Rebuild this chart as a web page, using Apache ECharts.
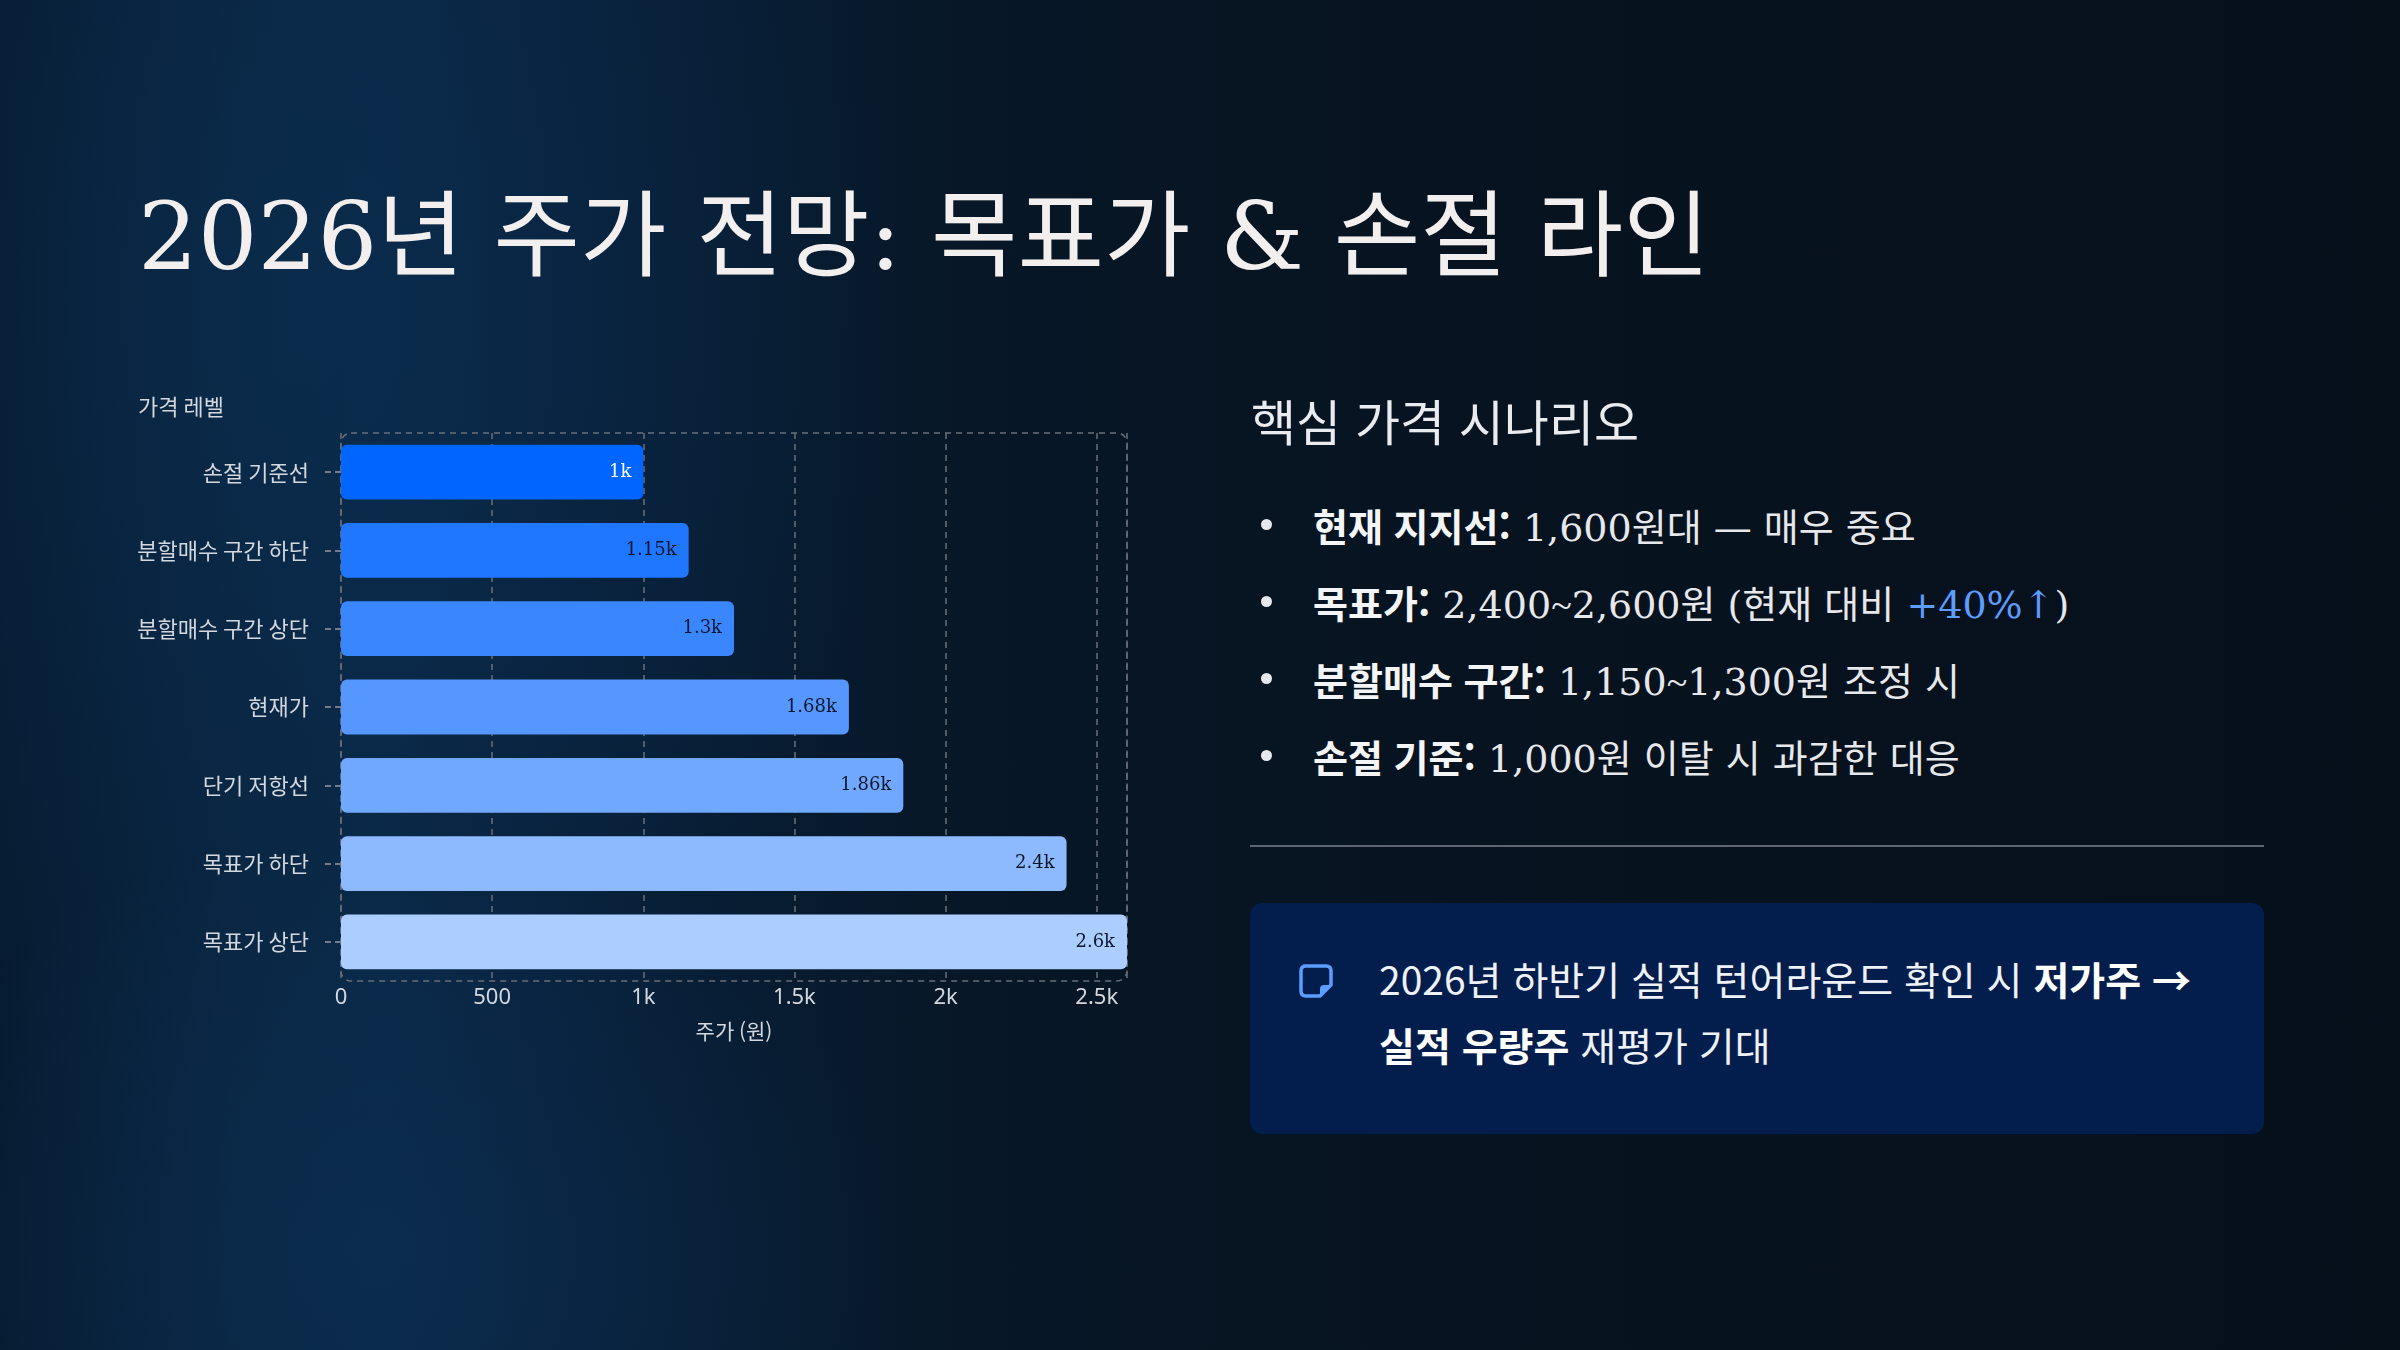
<!DOCTYPE html>
<html lang="ko">
<head>
<meta charset="utf-8">
<script src="https://cdn.jsdelivr.net/npm/echarts@6/dist/echarts.min.js"></script>
<style>
  html, body { margin: 0; padding: 0; }
  body {
    width: 2400px; height: 1350px; overflow: hidden; position: relative;
    font-family: "Noto Sans CJK KR", "Noto Sans", sans-serif;
    background:
      radial-gradient(ellipse 520px 420px at 380px 1250px, rgba(14,52,92,0.45), rgba(14,52,92,0) 100%),
      radial-gradient(ellipse 600px 900px at 300px 300px, rgba(12,48,84,0.55), rgba(12,48,84,0) 100%),
      linear-gradient(90deg, #061a2f 0%, #09243f 10%, #0a2644 16%, #08203a 24%, #071727 40%, #071320 60%, #06101b 100%);
  }
  #title {
    position: absolute; left: 138px; top: 172px; margin: 0;
    font-family: "DejaVu Serif", "Noto Sans CJK KR", serif;
    font-weight: 400; font-size: 94px; line-height: 130px; color: #f3efee;
    white-space: nowrap;
  }
  #chart { position: absolute; left: 0; top: 0; width: 1200px; height: 1350px; }
  #h2 {
    position: absolute; left: 1251px; top: 387px; margin: 0;
    font-weight: 400; font-size: 49px; line-height: 66px; color: #e9ebef; white-space: nowrap;
  }
  #bullets {
    position: absolute; left: 1250px; top: 486px; margin: 0; padding: 0; list-style: none;
    font-family: "DejaVu Serif", "Noto Sans CJK KR", serif;
    font-size: 38px; line-height: 77px; color: #e6e8ec; white-space: nowrap;
  }
  #bullets li { position: relative; padding-left: 63px; height: 77px; }
  #bullets li::before {
    content: ""; position: absolute; left: 11px; top: 33px; width: 11px; height: 11px;
    border-radius: 50%; background: #e6e8ec;
  }
  #bullets b { font-family: "Noto Sans CJK KR", sans-serif; font-weight: 700; color: #f4f5f7; }
  #bullets .up { color: #5c9dff; }
  #bullets .t { font-family: "Liberation Serif", serif; }
  #divider { position: absolute; left: 1250px; top: 845px; width: 1014px; height: 2px; background: #5d6573; }
  #callout {
    position: absolute; left: 1250px; top: 903px; width: 1014px; height: 231px;
    border-radius: 12px; background: #031d4c;
  }
  #callout svg { position: absolute; left: 48px; top: 60px; }
  #callout p {
    position: absolute; left: 129px; top: 42px; margin: 0; width: 880px;
    font-size: 39px; line-height: 66px; color: #eef1f6;
  }
  #callout b { font-weight: 700; color: #ffffff; }
</style>
</head>
<body>
<h1 id="title">2026년 주가 전망: 목표가 &amp; 손절 라인</h1>
<div id="chart"></div>
<h2 id="h2">핵심 가격 시나리오</h2>
<ul id="bullets">
  <li><b>현재 지지선:</b> 1,600원대 — 매우 중요</li>
  <li><b>목표가:</b> 2,400<span class="t">~</span>2,600원 (현재 대비 <span class="up">+40%↑</span>)</li>
  <li><b>분할매수 구간:</b> 1,150<span class="t">~</span>1,300원 조정 시</li>
  <li><b>손절 기준:</b> 1,000원 이탈 시 과감한 대응</li>
</ul>
<div id="divider"></div>
<div id="callout">
  <svg width="36" height="36" viewBox="0 0 36 36">
    <path d="M6 3 H28 Q33 3 33 8 V22 L22 33 H8 Q3 33 3 28 V8 Q3 3 8 3 Z" fill="none" stroke="#5c9dff" stroke-width="3.5" stroke-linejoin="round"/>
    <path d="M33 22 H26 Q22 22 22 26 V33 Z" fill="#5c9dff"/>
  </svg>
  <p>2026년 하반기 실적 턴어라운드 확인 시 <b>저가주 →<br>실적 우량주</b> 재평가 기대</p>
</div>
<script>
const categories = ['손절 기준선', '분할매수 구간 하단', '분할매수 구간 상단', '현재가', '단기 저항선', '목표가 하단', '목표가 상단'];
const prices = [1000, 1150, 1300, 1680, 1860, 2400, 2600];
const barColors = ['#0066ff', '#1f76ff', '#3a86ff', '#5596ff', '#71a8ff', '#8dbaff', '#abcdff'];
const labelColors = ['#ffffff', '#0b1628', '#0b1628', '#0b1628', '#0b1628', '#0b1628', '#0b1628'];
const xTickLabels = { 0: '0', 500: '500', 1000: '1k', 1500: '1.5k', 2000: '2k', 2500: '2.5k' };

const G = { left: 341, top: 433, width: 786, height: 548 };
const dashColor = '#6a6f79';

const chart = echarts.init(document.getElementById('chart'), null, { renderer: 'canvas' });
chart.setOption({
  backgroundColor: 'transparent',
  animation: false,
  title: {
    text: '가격 레벨', left: 138, top: 396, padding: 0,
    textStyle: { color: '#d3d7de', fontSize: 22, fontWeight: 400, fontFamily: 'Noto Sans CJK KR' }
  },
  grid: { left: G.left, top: G.top, width: G.width, height: G.height, containLabel: false },
  xAxis: {
    type: 'value', min: 0, max: 2600, interval: 500,
    name: '주가 (원)', nameLocation: 'middle', nameGap: 40,
    nameTextStyle: { color: '#d3d7de', fontSize: 21, fontFamily: 'Noto Sans CJK KR' },
    axisLine: { show: false }, axisTick: { show: false },
    axisLabel: {
      color: '#d3d7de', fontSize: 22, margin: 6, fontFamily: 'Noto Sans',
      showMaxLabel: false,
      formatter: v => (xTickLabels[v] !== undefined ? xTickLabels[v] : '')
    },
    splitLine: { show: true, lineStyle: { color: dashColor, width: 1.5, type: [6, 5] } }
  },
  yAxis: {
    type: 'category', data: categories, inverse: true, offset: 13,
    axisLine: { show: false },
    axisTick: { show: true, alignWithLabel: true, length: 16, lineStyle: { color: '#767b85', width: 2, type: [6, 4] } },
    axisLabel: { color: '#d3d7de', fontSize: 22, margin: 19, fontFamily: 'Noto Sans CJK KR' },
    splitLine: { show: false }
  },
  series: [{
    type: 'bar', barCategoryGap: '30%',
    data: prices.map((v, i) => ({
      value: v,
      itemStyle: { color: barColors[i], borderRadius: 6 },
      label: { color: labelColors[i] }
    })),
    label: {
      show: true, position: 'insideRight', distance: 12,
      fontFamily: 'DejaVu Serif', fontSize: 18,
      formatter: p => (p.value / 1000) + 'k'
    }
  }],
  graphic: [{
    type: 'rect', silent: true, z: 0,
    shape: { x: G.left, y: G.top, width: G.width, height: G.height, r: 10 },
    style: { fill: 'none', stroke: dashColor, lineWidth: 1.5, lineDash: [6, 5] }
  }]
});
</script>
</body>
</html>
